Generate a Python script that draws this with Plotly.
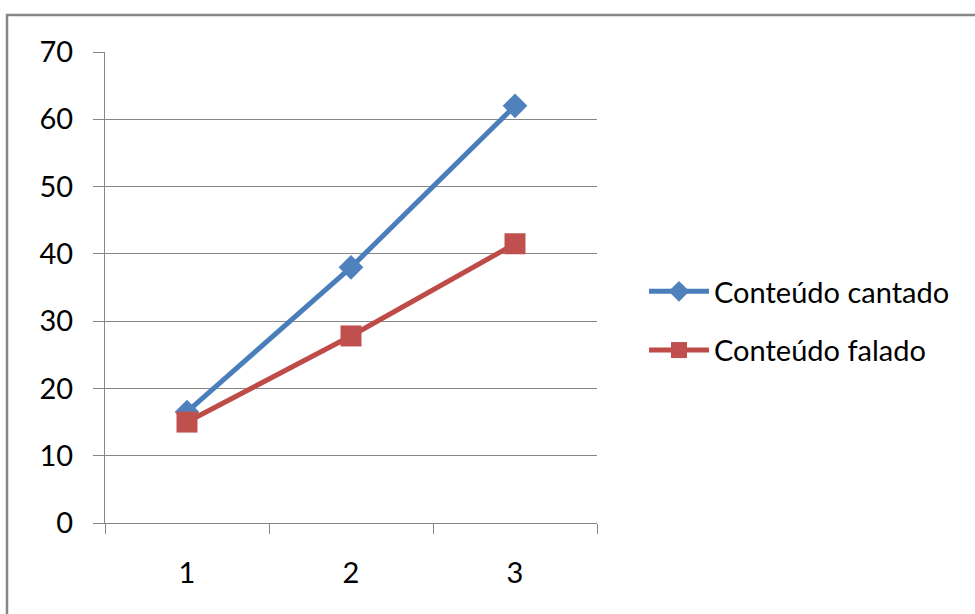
import plotly.graph_objects as go

categories = ["1", "2", "3"]
cantado = [16.5, 38, 62]
falado = [15, 27.8, 41.5]
y_ticks = [0, 10, 20, 30, 40, 50, 60, 70]

GRID = "#868686"
FONT = "Lato, 'Open Sans', sans-serif"

fig = go.Figure()
fig.add_trace(go.Scatter(
    x=categories, y=cantado, name="Conteúdo cantado", mode="lines+markers",
    line=dict(color="#4A7EBB", width=5),
    marker=dict(symbol="diamond", size=19, color="#4F81BD"),
    legendgroup="a",
))
fig.add_trace(go.Scatter(
    x=categories, y=falado, name="Conteúdo falado", mode="lines+markers",
    line=dict(color="#BE4B48", width=5),
    marker=dict(symbol="square", size=21, color="#C0504D"),
    legendgroup="b",
))

L, R, T, B = 105, 378, 52, 91
W, H = 975 - L - R, 614 - T - B

fig.update_layout(
    width=975, height=614,
    margin=dict(l=L, r=R, t=T, b=B),
    paper_bgcolor="white", plot_bgcolor="white",
    font=dict(family=FONT, size=29, color="#000000"),
    showlegend=True,
    legend=dict(
        x=(644 - L) / W, y=1 - (266 - T) / H, xanchor="left", yanchor="top",
        font=dict(family=FONT, size=29, color="#000000"),
        tracegroupgap=18, itemwidth=60, bgcolor="rgba(0,0,0,0)",
    ),
    shapes=[dict(
        type="rect", xref="paper", yref="paper",
        x0=(7 - L) / W, x1=(1100 - L) / W,
        y0=1 + (T - 15) / H, y1=-(B + 60) / H,
        line=dict(color=GRID, width=2.5), layer="below",
    )],
)
fig.update_xaxes(
    type="category", range=[-0.5, 2.5],
    showline=True, linecolor=GRID, linewidth=1,
    ticks="outside", tickson="boundaries", ticklen=10, tickcolor=GRID,
    ticklabelstandoff=24, showgrid=False, zeroline=False,
)
fig.update_yaxes(
    range=[0, 70], tickvals=y_ticks,
    showline=True, linecolor=GRID, linewidth=1,
    ticks="outside", ticklen=11, tickcolor=GRID,
    ticklabelstandoff=14,
    showgrid=True, gridcolor=GRID, gridwidth=1, zeroline=False,
)

fig.write_html("out.html")
